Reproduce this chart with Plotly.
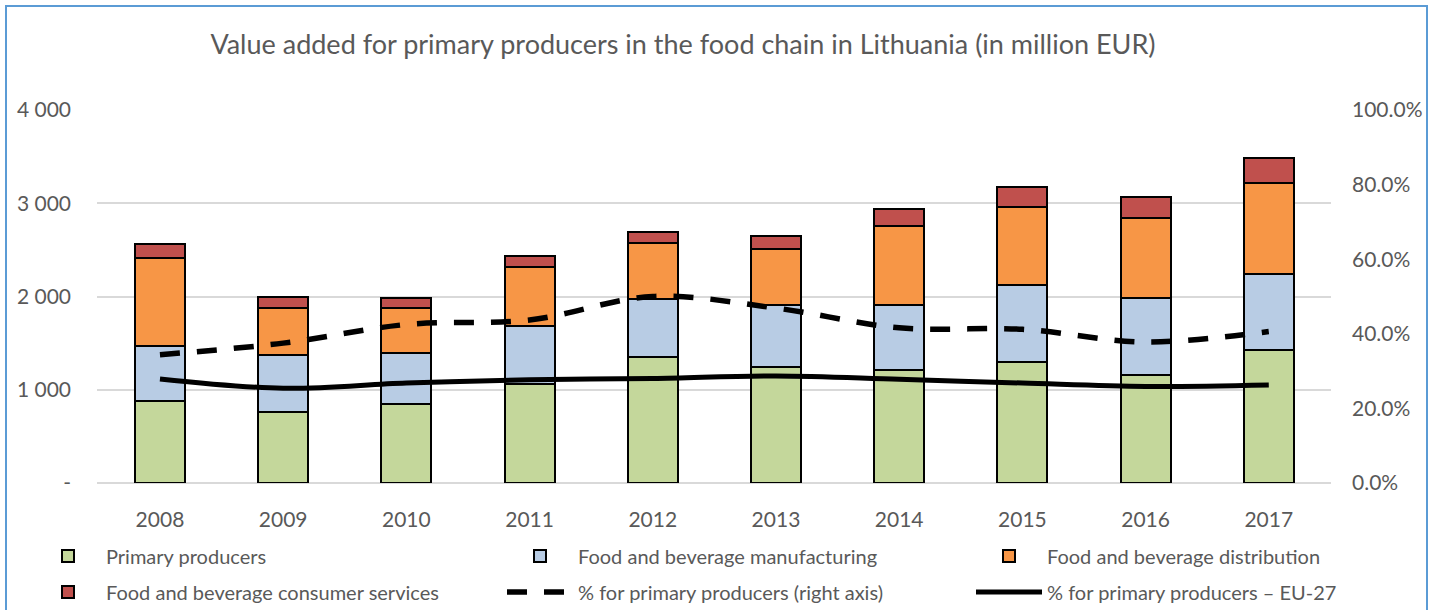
import plotly.graph_objects as go

years = ["2008", "2009", "2010", "2011", "2012", "2013", "2014", "2015", "2016", "2017"]
primary = [875, 757, 847, 1065, 1350, 1243, 1214, 1303, 1153, 1421]
manufacturing = [589, 618, 546, 621, 622, 668, 694, 822, 830, 822]
distribution = [947, 501, 483, 629, 600, 603, 850, 840, 864, 979]
consumer = [150, 124, 107, 121, 118, 140, 179, 207, 225, 261]
share_pct = [34.4, 37.5, 42.5, 43.7, 50.0, 46.9, 41.6, 41.2, 37.8, 40.6]
eu_pct = [27.9, 25.4, 26.8, 27.7, 28.0, 28.7, 27.8, 26.8, 25.9, 26.3]

left_ticks = [0, 1000, 2000, 3000, 4000]
left_ticktext = ["-", "1 000", "2 000", "3 000", "4 000"]

FONT = "Lato"
GREY = "#595959"

L, R, T, B = 97, 111, 110, 127
W, H = 1442, 610
pw, ph = W - L - R, H - T - B


def px_x(x):
    return (x - L) / pw


def px_y(y):
    return (H - B - y) / ph


col_x = [30, 502, 971]
row_y = [556, 592]

fig = go.Figure()
bar_series = [
    ("Primary producers", primary, "#C4D79B", "legend"),
    ("Food and beverage manufacturing", manufacturing, "#B8CCE4", "legend2"),
    ("Food and beverage distribution", distribution, "#F79646", "legend3"),
    ("Food and beverage consumer services", consumer, "#C0504D", "legend4"),
]
for name, vals, col, lg in bar_series:
    fig.add_trace(go.Bar(
        x=years, y=vals, name=name, width=0.406,
        marker=dict(color=col, line=dict(color="black", width=2)),
        legend=lg,
    ))

fig.add_trace(go.Scatter(
    x=years, y=[v / 100 for v in share_pct], name="% for primary producers (right axis)",
    yaxis="y2", mode="lines", line=dict(color="black", width=5.5, dash="20px,17px", shape="spline"),
    legend="legend5",
))
fig.add_trace(go.Scatter(
    x=years, y=[v / 100 for v in eu_pct], name="% for primary producers – EU-27",
    yaxis="y2", mode="lines", line=dict(color="black", width=5, shape="spline"),
    legend="legend6",
))

legend_common = dict(
    orientation="h", itemwidth=66,
    font=dict(family=FONT, size=20, color=GREY), bgcolor="rgba(0,0,0,0)",
    xanchor="left", yanchor="middle",
)
legends = {}
names = ["legend", "legend2", "legend3", "legend4", "legend5", "legend6"]
for i, nm in enumerate(names):
    legends[nm] = dict(x=px_x(col_x[i % 3]), y=px_y(row_y[i // 3]), **legend_common)

fig.update_layout(
    width=W, height=H,
    margin=dict(l=L, r=R, t=T, b=B, autoexpand=False),
    paper_bgcolor="white", plot_bgcolor="white",
    barmode="stack",
    title=dict(text="Value added for primary producers in the food chain in Lithuania (in million EUR)",
               x=683 / W, xanchor="center", y=1 - 45 / H, yanchor="middle",
               font=dict(family=FONT, size=27, color=GREY)),
    font=dict(family=FONT, color=GREY),
    xaxis=dict(type="category", range=[-0.511, 9.505], showgrid=False, showline=False,
               tickfont=dict(size=21, color=GREY), ticks="", ticklabelstandoff=22),
    yaxis=dict(range=[0, 4000], tickvals=left_ticks, ticktext=left_ticktext,
               showgrid=True, gridcolor="#D9D9D9", gridwidth=1.5,
               zeroline=True, zerolinecolor="#D9D9D9", zerolinewidth=1.5,
               tickfont=dict(size=21, color=GREY), ticklabelstandoff=25),
    yaxis2=dict(range=[0, 1], overlaying="y", side="right", tickformat=".1%", dtick=0.2,
                showgrid=False, zeroline=False, tickfont=dict(size=21, color=GREY),
                ticklabelstandoff=20),
    showlegend=True,
    shapes=[dict(type="rect", xref="paper", yref="paper",
                 x0=px_x(6), x1=px_x(1427), y0=px_y(640), y1=px_y(6),
                 line=dict(color="#5B9BD5", width=2), fillcolor="rgba(0,0,0,0)", layer="below")],
    **legends,
)

fig.write_html("out.html", config={"displayModeBar": False},
               post_script="document.body.style.margin='0';document.body.style.overflow='hidden';")
